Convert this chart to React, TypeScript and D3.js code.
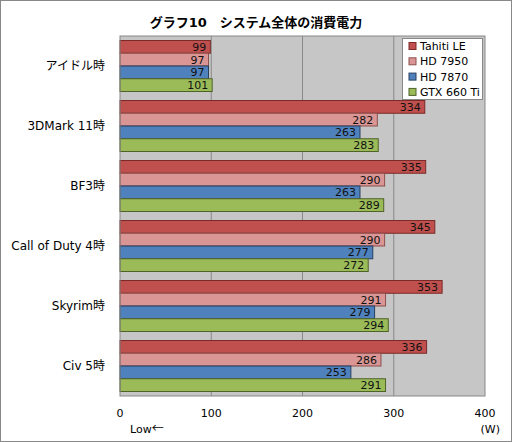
import React from "react";
import * as d3 from "d3";

const categories = ["アイドル時", "3DMark 11時", "BF3時", "Call of Duty 4時", "Skyrim時", "Civ 5時"];
const seriesNames = ["Tahiti LE", "HD 7950", "HD 7870", "GTX 660 Ti"];
const tahitiLE = [99, 334, 335, 345, 353, 336];
const hd7950 = [97, 282, 290, 290, 291, 286];
const hd7870 = [97, 263, 263, 277, 279, 253];
const gtx660ti = [101, 283, 289, 272, 294, 291];
const ticks = [0, 100, 200, 300, 400];

const colors = ["#c0504d", "#d99694", "#4f81bd", "#9bbb59"];
const strokes = ["#7a2a28", "#8c4f4d", "#263f5f", "#4f6228"];

const W = 512;
const H = 442;
const font = "'DejaVu Sans', 'Noto Sans CJK JP', sans-serif";

const App: React.FC = () => {
  const values = [tahitiLE, hd7950, hd7870, gtx660ti];
  const x = d3.scaleLinear().domain([0, 400]).range([120, 485]);
  const y = d3.scaleBand<string>().domain(categories).range([36, 396]).paddingInner(0.15).paddingOuter(0.075);
  const yInner = d3.scaleBand<string>().domain(seriesNames).range([0, y.bandwidth()]);

  return (
    <>
      <style>{"body{margin:0}"}</style>
      <svg width={W} height={H} style={{ display: "block", fontFamily: font }}>
        <rect x={0.5} y={0.5} width={W - 1} height={H - 1} fill="#fff" stroke="#888" />
        <text x={256} y={27} textAnchor="middle" fontSize={13} fontWeight="bold" fill="#000">
          グラフ10　システム全体の消費電力
        </text>

        {/* plot area */}
        <rect x={x(0)} y={36} width={x(400) - x(0)} height={360} fill="#c6c6c6" />
        {ticks.slice(1, -1).map((t) => (
          <line key={t} x1={x(t)} x2={x(t)} y1={36} y2={396} stroke="#888" />
        ))}

        {categories.map((c, ci) => (
          <g key={c} transform={`translate(0,${y(c)})`}>
            {seriesNames.map((s, si) => {
              const v = values[si][ci];
              const by = yInner(s)!;
              const bh = yInner.bandwidth();
              return (
                <g key={s}>
                  <rect
                    x={x(0)}
                    y={by}
                    width={x(v) - x(0)}
                    height={bh}
                    fill={colors[si]}
                    stroke={strokes[si]}
                    strokeWidth={1}
                  />
                  <text x={x(v) - 4} y={by + bh / 2} dy="0.36em" textAnchor="end" fontSize={11} fill="#111">
                    {v}
                  </text>
                </g>
              );
            })}
            <text x={105} y={y.bandwidth() / 2} dy="0.36em" textAnchor="end" fontSize={12} fill="#000">
              {c}
            </text>
          </g>
        ))}

        <rect x={x(0)} y={36} width={x(400) - x(0)} height={360} fill="none" stroke="#888" />

        {ticks.map((t) => (
          <text key={t} x={x(t)} y={413} dy="0.36em" textAnchor="middle" fontSize={11} fill="#000">
            {t}
          </text>
        ))}
        <text x={130} y={429} dy="0.36em" fontSize={11} fill="#000">
          Low<tspan fontFamily="'Noto Sans CJK JP'" fontSize={12}>←</tspan>
        </text>
        <text x={500} y={429} dy="0.36em" textAnchor="end" fontSize={11} fill="#000">(W)</text>

        {/* legend */}
        <rect x={402.5} y={38.5} width={80} height={61} fill="#fff" stroke="#888" />
        {seriesNames.map((s, i) => (
          <g key={s} transform={`translate(409,${46 + i * 15.3})`}>
            <rect x={0} y={-3.5} width={7} height={7} fill={colors[i]} stroke={strokes[i]} />
            <text x={11} y={0} dy="0.36em" fontSize={11} fill="#000">{s}</text>
          </g>
        ))}
      </svg>
    </>
  );
};

export default App;
